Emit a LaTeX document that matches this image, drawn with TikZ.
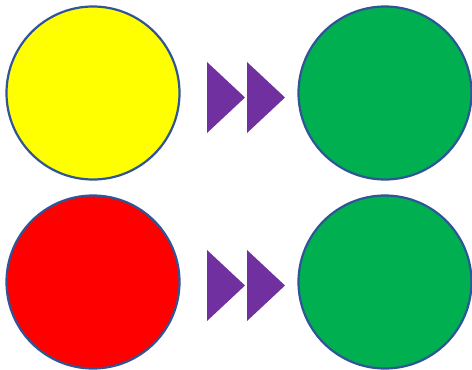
\documentclass[tikz,border=0pt]{standalone}
\usepackage{tikz}
\usetikzlibrary{positioning}
\definecolor{lampEdge}{HTML}{2F5597}
\definecolor{lampYellow}{HTML}{FFFF00}
\definecolor{lampRed}{HTML}{FF0000}
\definecolor{lampGreen}{HTML}{00B050}
\definecolor{arrowPurple}{HTML}{7030A0}
\tikzset{
  lamp/.style={
    draw=lampEdge, circle, line width=2.2pt, minimum size=173pt, inner sep=0pt
  },
  chevron/.style={fill=arrowPurple, draw=none}
}

\begin{document}
\begin{tikzpicture}[x=1pt, y=-1pt]
  \useasboundingbox (0,0) rectangle (472,370);
  % lamps before and after
  \node[lamp, fill=lampYellow] (from-top) at (93,93) {};
  \node[lamp, fill=lampGreen]  (to-top)   at (385,93) {};
  \node[lamp, fill=lampRed]    (from-bot) at (93,282) {};
  \node[lamp, fill=lampGreen]  (to-bot)   at (385,282) {};
  % double arrow heads
  \foreach \y in {97.5, 285.5}{
    \foreach \x in {207, 247}{
      \fill[chevron] (\x,\y-35.5) -- (\x+38,\y) -- (\x,\y+35.5) -- cycle;
    }
  }
\end{tikzpicture}
\end{document}
